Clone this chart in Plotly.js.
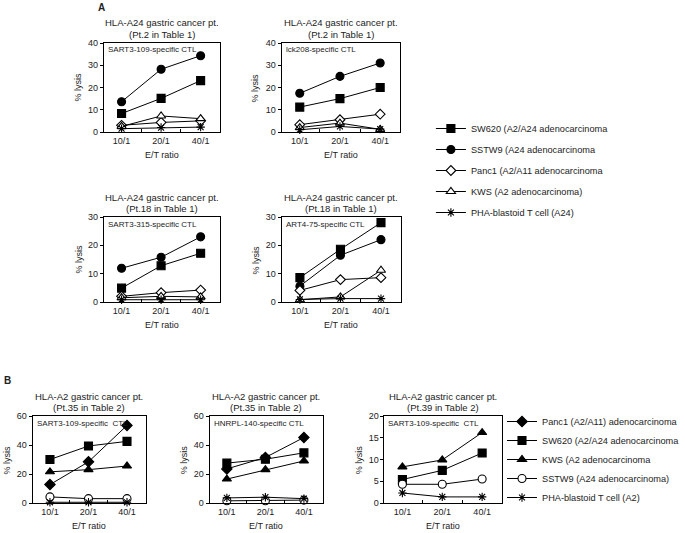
<!DOCTYPE html>
<html><head><meta charset="utf-8">
<script src="https://cdn.plot.ly/plotly-3.0.1.min.js"></script>
<style>html,body{margin:0;padding:0;background:#fff}</style>
</head><body><div id="chart" style="width:685px;height:533px"></div>
<script>
// ---------- DATA ----------
const etRatio = ['10/1', '20/1', '40/1'];

// Panel A1: SART3-109-specific CTL (Pt.2)
const a1SW620 = [8.3, 15.1, 23.1];
const a1SSTW9 = [13.6, 28.2, 34.3];
const a1Panc1 = [3.0, 4.3, 5.0];
const a1KWS   = [2.5, 7.2, 6.0];
const a1PHA   = [1.5, 2.0, 2.2];
// Panel A2: lck208-specific CTL (Pt.2)
const a2SW620 = [11.2, 15.0, 20.0];
const a2SSTW9 = [17.4, 25.0, 31.0];
const a2Panc1 = [3.3, 5.5, 8.0];
const a2KWS   = [2.0, 4.0, 1.2];
const a2PHA   = [1.0, 2.5, 1.3];
// Panel A3: SART3-315-specific CTL (Pt.18)
const a3SW620 = [4.9, 12.8, 17.2];
const a3SSTW9 = [11.9, 15.8, 23.0];
const a3Panc1 = [2.0, 3.3, 4.2];
const a3KWS   = [1.5, 2.0, 1.8];
const a3PHA   = [0.8, 0.8, 0.8];
// Panel A4: ART4-75-specific CTL (Pt.18)
const a4SW620 = [8.6, 18.6, 28.0];
const a4SSTW9 = [5.6, 16.5, 22.0];
const a4Panc1 = [4.1, 7.9, 8.6];
const a4KWS   = [0.8, 1.8, 11.2];
const a4PHA   = [0.9, 1.2, 1.2];
// Panel B1: SART3-109-specific CTL (Pt.35)
const b1Panc1 = [12.7, 28.4, 53.5];
const b1SW620 = [30.0, 39.3, 42.5];
const b1KWS   = [21.5, 23.0, 25.5];
const b1SSTW9 = [4.2, 3.0, 3.0];
const b1PHA   = [0.5, 0.5, 0.5];
// Panel B2: HNRPL-140-specific CTL (Pt.35)
const b2Panc1 = [23.5, 31.4, 45.2];
const b2SW620 = [27.5, 30.2, 34.6];
const b2KWS   = [16.5, 23.0, 29.0];
const b2SSTW9 = [1.5, 1.5, 2.0];
const b2PHA   = [3.5, 4.0, 3.0];
// Panel B3: SART3-109-specific CTL (Pt.39)
const b3KWS   = [8.3, 9.9, 16.2];
const b3SW620 = [5.4, 7.5, 11.5];
const b3SSTW9 = [4.3, 4.3, 5.5];
const b3PHA   = [2.3, 1.4, 1.4];

const legendA = ['SW620 (A2/A24 adenocarcinoma', 'SSTW9 (A24 adenocarcinoma', 'Panc1 (A2/A11 adenocarcinoma', 'KWS (A2 adenocarcinoma)', 'PHA-blastoid T cell (A24)'];
const legendB = ['Panc1 (A2/A11) adenocarcinoma', 'SW620 (A2/A24 adenocarcinoma', 'KWS (A2 adenocarcinoma', 'SSTW9 (A24 adenocarcinoma)', 'PHA-blastoid T cell (A2)'];

// ---------- STYLES ----------
const W = 685, H = 533;
const FONT = '"Liberation Sans", Arial, Helvetica, sans-serif';
const TXT = '#222';

const styleA = {
  SW620: {symbol: 'square', size: 8, color: '#000'},
  SSTW9: {symbol: 'circle', size: 8, color: '#000'},
  Panc1: {symbol: 'diamond', size: 7.5, color: '#fff'},
  KWS:   {symbol: 'triangle-up', size: 8, color: '#fff'},
  PHA:   {symbol: 'asterisk-open', size: 7, color: '#000'}
};
const styleB = {
  Panc1: {symbol: 'diamond', size: 8, color: '#000'},
  SW620: {symbol: 'square', size: 8, color: '#000'},
  KWS:   {symbol: 'triangle-up', size: 8, color: '#000'},
  SSTW9: {symbol: 'circle', size: 8, color: '#fff'},
  PHA:   {symbol: 'asterisk-open', size: 7, color: '#000'}
};

const panels = [
  {box: [105, 223, 43, 132], yr: 40, dt: 10, t1: 'HLA-A24 gastric cancer pt.', t2: '(Pt.2 in Table 1)', inner: 'SART3-109-specific CTL',
   series: [['SW620', a1SW620], ['SSTW9', a1SSTW9], ['Panc1', a1Panc1], ['KWS', a1KWS], ['PHA', a1PHA]], st: styleA, leg: 'legend', names: legendA},
  {box: [285, 405, 43, 132], yr: 40, dt: 10, t1: 'HLA-A24 gastric cancer pt.', t2: '(Pt.2 in Table 1)', inner: 'lck208-specific CTL',
   series: [['SW620', a2SW620], ['SSTW9', a2SSTW9], ['Panc1', a2Panc1], ['KWS', a2KWS], ['PHA', a2PHA]], st: styleA, leg: 'legend', names: legendA},
  {box: [105, 223, 217, 302], yr: 30, dt: 10, t1: 'HLA-A24 gastric cancer pt.', t2: '(Pt.18 in Table 1)', inner: 'SART3-315-specific CTL',
   series: [['SW620', a3SW620], ['SSTW9', a3SSTW9], ['Panc1', a3Panc1], ['KWS', a3KWS], ['PHA', a3PHA]], st: styleA, leg: 'legend', names: legendA},
  {box: [285, 406, 217, 302], yr: 30, dt: 10, t1: 'HLA-A24 gastric cancer pt.', t2: '(Pt.18 in Table 1)', inner: 'ART4-75-specific CTL',
   series: [['SW620', a4SW620], ['SSTW9', a4SSTW9], ['Panc1', a4Panc1], ['KWS', a4KWS], ['PHA', a4PHA]], st: styleA, leg: 'legend', names: legendA},
  {box: [33, 148, 416, 503], yr: 60, dt: 20, t1: 'HLA-A2 gastric cancer pt.', t2: '(Pt.35 in Table 2)', inner: 'SART3-109-specific&nbsp; CTL',
   series: [['Panc1', b1Panc1], ['SW620', b1SW620], ['KWS', b1KWS], ['SSTW9', b1SSTW9], ['PHA', b1PHA]], st: styleB, leg: 'legend2', names: legendB},
  {box: [212, 327, 416, 503], yr: 60, dt: 20, t1: 'HLA-A2 gastric cancer pt.', t2: '(Pt.35 in Table 2)', inner: 'HNRPL-140-specific CTL',
   series: [['Panc1', b2Panc1], ['SW620', b2SW620], ['KWS', b2KWS], ['SSTW9', b2SSTW9], ['PHA', b2PHA]], st: styleB, leg: 'legend2', names: legendB},
  {box: [389, 508, 416, 503], yr: 20, dt: 5, t1: 'HLA-A2 gastric cancer pt.', t2: '(Pt.39 in Table 2)', inner: 'SART3-109-specific&nbsp; CTL',
   series: [['KWS', b3KWS], ['SW620', b3SW620], ['SSTW9', b3SSTW9], ['PHA', b3PHA]], st: styleB, leg: 'legend2', names: legendB}
];

const data = [];
const annotations = [];
const layout = {
  width: W, height: H, margin: {l: 0, r: 0, t: 0, b: 0},
  paper_bgcolor: '#fff', plot_bgcolor: 'rgba(0,0,0,0)',
  font: {family: FONT, size: 9, color: TXT},
  showlegend: true,
  legend: {x: 436 / W, y: 1 - 114 / H, xanchor: 'left', yanchor: 'top', bgcolor: 'rgba(0,0,0,0)',
           font: {family: FONT, size: 9.2, color: TXT}, traceorder: 'grouped', tracegroupgap: 2},
  legend2: {x: 508 / W, y: 1 - 407 / H, xanchor: 'left', yanchor: 'top', bgcolor: 'rgba(0,0,0,0)',
           font: {family: FONT, size: 9.2, color: TXT}, traceorder: 'normal'},
  annotations: annotations
};

const orderA = ['SW620', 'SSTW9', 'Panc1', 'KWS', 'PHA'];
const orderB = ['Panc1', 'SW620', 'KWS', 'SSTW9', 'PHA'];

panels.forEach((p, i) => {
  const n = i === 0 ? '' : String(i + 1);
  const [x0, x1, y0, y1] = p.box;
  layout['xaxis' + n] = {
    type: 'category', categoryarray: etRatio, range: [-0.45, 2.5],
    domain: [x0 / W, x1 / W], anchor: 'y' + n,
    showline: true, mirror: true, linecolor: '#000', linewidth: 1,
    ticks: 'inside', ticklen: 3, tickcolor: '#000', tickson: 'boundaries',
    showgrid: false, zeroline: false, tickfont: {size: 9, color: TXT}, fixedrange: true
  };
  layout['yaxis' + n] = {
    range: [0, p.yr], dtick: p.dt, domain: [1 - y1 / H, 1 - y0 / H], anchor: 'x' + n,
    showline: true, mirror: true, linecolor: '#000', linewidth: 1,
    ticks: 'outside', ticklen: 3, tickcolor: '#000',
    showgrid: false, zeroline: false, tickfont: {size: 9, color: TXT}, fixedrange: true
  };
  const order = p.leg === 'legend' ? orderA : orderB;
  p.series.forEach(([key, vals]) => {
    const s = p.st[key];
    const idx = order.indexOf(key);
    const first = (i === 0 || i === 4);
    data.push({
      type: 'scatter', mode: 'lines+markers', x: etRatio, y: vals,
      xaxis: 'x' + n, yaxis: 'y' + n, cliponaxis: false,
      name: p.names[idx], legend: p.leg,
      legendgroup: p.leg === 'legend' ? 'A' + key : undefined,
      showlegend: first, legendrank: idx + 1,
      line: {color: '#000', width: 1},
      marker: {symbol: s.symbol, size: s.size, color: s.color, line: {color: '#000', width: 1.1}}
    });
  });
  const cx = (x0 + x1) / 2;
  annotations.push(
    {xref: 'paper', yref: 'paper', x: cx / W, y: 1 - (y0 - 20) / H, text: p.t1, showarrow: false, xanchor: 'center', yanchor: 'middle', font: {size: 9.5, color: TXT}},
    {xref: 'paper', yref: 'paper', x: cx / W, y: 1 - (y0 - 9) / H, text: p.t2, showarrow: false, xanchor: 'center', yanchor: 'middle', font: {size: 9.5, color: TXT}},
    {xref: 'paper', yref: 'paper', x: (x0 + 2) / W, y: 1 - (y0 + 7) / H, text: p.inner, showarrow: false, xanchor: 'left', yanchor: 'middle', font: {size: 8, color: TXT}},
    {xref: 'paper', yref: 'paper', x: cx / W, y: 1 - (y1 + 23) / H, text: 'E/T ratio', showarrow: false, xanchor: 'center', yanchor: 'middle', font: {size: 9, color: TXT}},
    {xref: 'paper', yref: 'paper', x: (x0 - 26) / W, y: 1 - ((y0 + y1) / 2) / H, text: '% lysis', showarrow: false, textangle: -90, xanchor: 'center', yanchor: 'middle', font: {size: 9, color: TXT}}
  );
});

annotations.push(
  {xref: 'paper', yref: 'paper', x: 103 / W, y: 1 - 8 / H, text: '<b>A</b>', showarrow: false, xanchor: 'center', yanchor: 'middle', font: {size: 10, color: TXT}},
  {xref: 'paper', yref: 'paper', x: 8 / W, y: 1 - 380 / H, text: '<b>B</b>', showarrow: false, xanchor: 'center', yanchor: 'middle', font: {size: 10, color: TXT}}
);

Plotly.newPlot('chart', data, layout, {displayModeBar: false, staticPlot: true});
</script>
</body></html>
